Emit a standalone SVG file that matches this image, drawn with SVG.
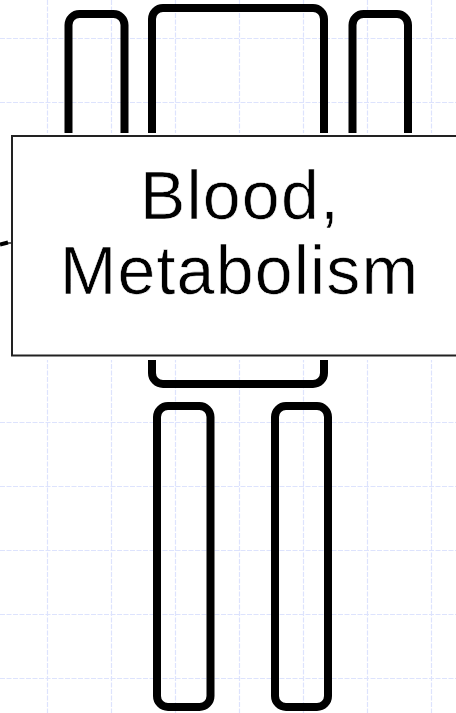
<svg xmlns="http://www.w3.org/2000/svg" width="456" height="713" viewBox="0 0 456 713">
<style>
.grid{stroke:#dde3fd;stroke-width:1.2;stroke-dasharray:5 1.5;fill:none}
.part{fill:none;stroke:#000;stroke-width:8}
.label{font-family:"Liberation Sans",Arial,sans-serif;font-size:68px;letter-spacing:1.2px;fill:#000;text-anchor:middle;stroke:#fff;stroke-width:.6px;paint-order:fill stroke}
</style>
<rect width="456" height="713" fill="#fff"/>
<g id="grid" class="grid">
<path d="M47.5 0V713M111.5 0V713M175.5 0V713M239.5 0V713M303.5 0V713M367.5 0V713M431.5 0V713"/>
<path d="M0 38.5H456M0 102.5H456M0 422.5H456M0 486.5H456M0 550.5H456M0 614.5H456M0 678.5H456"/>
</g>
<g id="upper-left"><rect class="part" x="68.5" y="14" width="56" height="160" rx="11"/></g>
<g id="upper-middle"><rect class="part" x="152" y="8" width="172" height="376" rx="11"/></g>
<g id="upper-right"><rect class="part" x="352.5" y="14" width="55.5" height="160" rx="11"/></g>
<g id="lower-left"><rect class="part" x="157" y="406" width="53.5" height="301" rx="11"/></g>
<g id="lower-right"><rect class="part" x="275" y="406" width="53" height="301" rx="11"/></g>
<g id="blood-metabolism">
<rect x="0" y="133" width="456" height="227" fill="#fff"/>
<rect x="12" y="136" width="446" height="219.5" fill="#fff" stroke="#222" stroke-width="2"/>
<text class="label" x="240" y="219">Blood,</text>
<text class="label" x="239.5" y="294">Metabolism</text>
</g>
<g id="connectors"><path d="M0 244.5L8 242.5" fill="none" stroke="#000" stroke-width="4"/><path d="M8 243H12" fill="none" stroke="#222" stroke-width="1.5"/></g>
</svg>
